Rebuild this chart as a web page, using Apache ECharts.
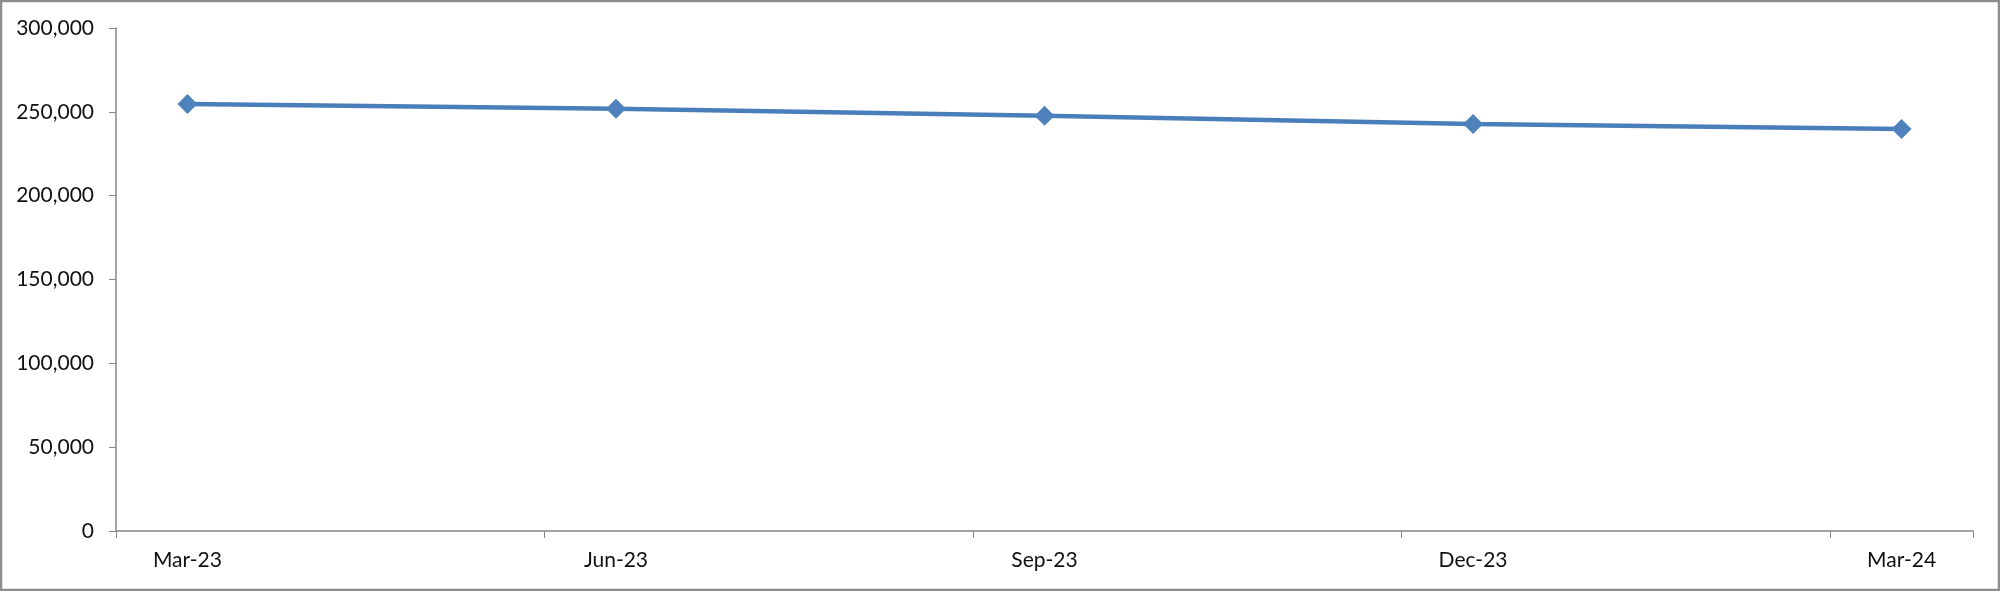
<!DOCTYPE html>
<html>
<head>
<meta charset="utf-8">
<script src="https://cdn.jsdelivr.net/npm/echarts@6/dist/echarts.min.js"></script>
<style>
  html, body { margin: 0; padding: 0; background: #fff; }
  #main { width: 2000px; height: 591px; }
</style>
</head>
<body>
<div id="main"></div>
<script>
// monthly slots on the date axis, values only at quarter ends
var months = ['Mar-23', 'Apr-23', 'May-23', 'Jun-23', 'Jul-23', 'Aug-23', 'Sep-23',
  'Oct-23', 'Nov-23', 'Dec-23', 'Jan-24', 'Feb-24', 'Mar-24'];
var values = [254600, null, null, 251800, null, null, 247600,
  null, null, 242700, null, null, 239700];
var yTicks = [0, 50000, 100000, 150000, 200000, 250000, 300000];

var chart = echarts.init(document.getElementById('main'));

var axisGrey = '#868686';
var font = 'Lato, "Open Sans", sans-serif';

var option = {
  animation: false,
  textStyle: { fontFamily: font },
  graphic: [{
    type: 'rect',
    shape: { x: 1, y: 1, width: 1998, height: 589 },
    style: { fill: 'none', stroke: '#8c8c8c', lineWidth: 2.5 },
    silent: true
  }],
  grid: {
    left: 116,
    right: 27,
    top: 28,
    bottom: 60
  },
  xAxis: {
    type: 'category',
    data: months,
    boundaryGap: true,
    axisLine: { lineStyle: { color: axisGrey, width: 1.5 } },
    axisTick: { show: true, interval: 2, length: 7, lineStyle: { color: axisGrey, width: 1 } },
    axisLabel: {
      interval: 2,
      margin: 19,
      color: '#111',
      fontSize: 21,
      fontFamily: font
    },
    splitLine: { show: false }
  },
  yAxis: {
    type: 'value',
    min: yTicks[0],
    max: yTicks[yTicks.length - 1],
    interval: yTicks[1] - yTicks[0],
    axisLine: { show: true, lineStyle: { color: axisGrey, width: 1.5 } },
    axisTick: { show: true, length: 7, lineStyle: { color: axisGrey, width: 1 } },
    axisLabel: {
      margin: 22,
      color: '#111',
      fontSize: 21,
      fontFamily: font,
      formatter: function (v) { return v.toLocaleString('en-US'); }
    },
    splitLine: { show: false }
  },
  series: [{
    type: 'line',
    data: values,
    connectNulls: true,
    symbol: 'diamond',
    symbolSize: 20,
    showAllSymbol: true,
    lineStyle: { color: '#4a7ebb', width: 4.5 },
    itemStyle: { color: '#4f81bd' }
  }]
};

chart.setOption(option);
</script>
</body>
</html>
